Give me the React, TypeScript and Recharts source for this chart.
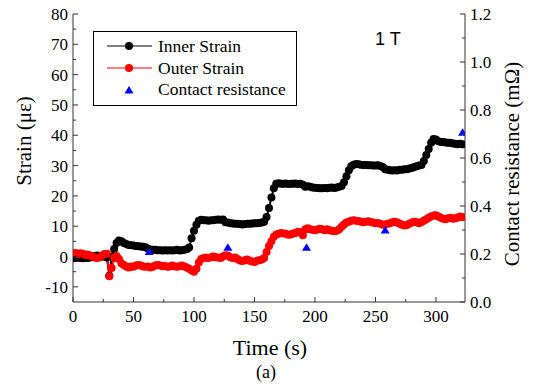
import { ComposedChart, Line, Scatter, XAxis, YAxis } from "recharts";

// time axis (s), sampled every 2 s
const times = [
  0, 2, 4, 6, 8, 10, 12, 14, 16, 18, 20, 22, 24, 26, 28, 30, 32, 34, 36, 38,
  40, 42, 44, 46, 48, 50, 52, 54, 56, 58, 60, 62, 64, 66, 68, 70, 72, 74, 76, 78,
  80, 82, 84, 86, 88, 90, 92, 94, 96, 98, 100, 102, 104, 106, 108, 110, 112, 114, 116, 118,
  120, 122, 124, 126, 128, 130, 132, 134, 136, 138, 140, 142, 144, 146, 148, 150, 152, 154, 156, 158,
  160, 162, 164, 166, 168, 170, 172, 174, 176, 178, 180, 182, 184, 186, 188, 190, 192, 194, 196, 198,
  200, 202, 204, 206, 208, 210, 212, 214, 216, 218, 220, 222, 224, 226, 228, 230, 232, 234, 236, 238,
  240, 242, 244, 246, 248, 250, 252, 254, 256, 258, 260, 262, 264, 266, 268, 270, 272, 274, 276, 278,
  280, 282, 284, 286, 288, 290, 292, 294, 296, 298, 300, 302, 304, 306, 308, 310, 312, 314, 316, 318,
  320, 322,
];

const innerStrain = [
  -0.5, -0.5, -0.3, -0.5, -0.6, -0.4, -0.5, -0.3, 0, 0.2, 0.3, 0.2, 0, 0, -0.3, -6.3, 0, 2.5, 4.5, 5.3,
  5, 4.5, 4.1, 3.8, 3.7, 3.6, 3.5, 3.4, 3.3, 3.2, 3.1, 2.6, 2.3, 2.2, 2.2, 2.1, 2.1, 2, 2.1, 2,
  2.1, 2, 2.1, 2.2, 2, 2.1, 2.2, 2.4, 3, 6, 8.5, 10.5, 11.8, 12.1, 12, 12, 11.8, 12, 12, 12.1,
  12.2, 12.1, 12.2, 11.3, 11.2, 11, 10.9, 10.8, 10.8, 10.7, 10.6, 10.7, 10.8, 10.8, 10.9, 11, 11, 11.1, 11.2, 11.5,
  13, 16, 19.5, 22.5, 24, 24.2, 24, 24, 24.1, 23.9, 24, 24, 24.1, 23.9, 24, 23.7, 23, 23.2, 23, 22.8,
  22.7, 22.6, 22.5, 22.5, 22.6, 22.5, 22.7, 22.8, 22.6, 22.8, 23, 23.3, 24.5, 26.5, 28.5, 29.8, 30.3, 30.5, 30.4, 30.3,
  30.2, 30.2, 30.1, 30.1, 30, 30, 30.1, 29.9, 29.5, 28.8, 28.6, 28.5, 28.4, 28.5, 28.4, 28.6, 28.6, 28.8, 28.8, 29,
  29.2, 29.5, 29.8, 30, 30.2, 31.5, 33.5, 35.5, 37.5, 38.8, 38.6, 38, 37.8, 37.8, 37.6, 37.5, 37.5, 37.3, 37.2, 37,
  37.2, 37,
];

const outerStrain = [
  1, 1.2, 0.8, 1.1, 0.9, 0.5, 0.7, 0.3, 0, -0.3, -0.5, -0.2, 0.3, 0.8, 0.9, -6.5, -3.8, -0.5, 0.2, -0.8,
  -2.2, -2.8, -3.3, -3.6, -3.3, -3.4, -3, -2.8, -3, -3.3, -3.4, -3.3, -3.6, -3.4, -3, -2.8, -3, -3.2, -3.1, -3.4,
  -3.3, -3, -3.2, -3.4, -3.2, -3, -3.3, -3.6, -4, -4.5, -5, -4, -2, -0.8, -0.5, -0.3, -0.5, -0.2, 0, -0.2,
  -0.3, -0.5, 0, 0.4, 0.3, -0.2, -0.5, -0.3, -0.8, -1.3, -1.5, -1.2, -1, -1.4, -1.6, -1.8, -1.4, -1.2, -1, -0.5,
  1.5, 3.5, 5, 6.5, 7.3, 7.5, 7.8, 7.6, 7.5, 7.2, 7.3, 7.6, 7.8, 8.2, 8, 7, 9, 9.3, 9, 8.8,
  8.7, 8.9, 9.2, 9, 8.7, 9, 8.7, 8.5, 8.3, 8.5, 9, 9.8, 10.6, 11.2, 11.5, 11.8, 12, 11.8, 11.7, 11.5,
  11.3, 11.5, 11.6, 11.4, 11.2, 11, 11.1, 10.8, 10.5, 10.6, 10.8, 11, 11.3, 11.5, 11.2, 10.8, 10.5, 10.2, 10.4, 10.8,
  11.2, 11.5, 11.3, 11, 11.4, 11.8, 12.3, 12.8, 13.2, 13.5, 13.6, 13.2, 12.8, 12.5, 12.3, 12.6, 12.8, 12.5, 12.6, 12.9,
  13.2, 13,
];

// contact resistance (mOhm), right axis
const resTimes = [63, 128, 193, 258, 322];
const resValues = [0.21, 0.228, 0.228, 0.3, 0.707];

const xTicks = [0, 25, 50, 75, 100, 125, 150, 175, 200, 225, 250, 275, 300];
const leftTicks = [-10, -5, 0, 5, 10, 15, 20, 25, 30, 35, 40, 45, 50, 55, 60, 65, 70, 75, 80];
const rightTicks = [0, 0.1, 0.2, 0.3, 0.4, 0.5, 0.6, 0.7, 0.8, 0.9, 1.0, 1.1, 1.2];

const strainData = times.map((t, i) => ({ t, inner: innerStrain[i], outer: outerStrain[i] }));
const resData = resTimes.map((t, i) => ({ t, r: resValues[i] }));

const AX = "#333";
const serif = "'Liberation Serif', 'Times New Roman', serif";

function BottomTick({ x, y, payload }: any) {
  const v = payload.value;
  const major = v % 50 === 0;
  return (
    <g>
      <line x1={x} x2={x} y1={y} y2={y - (major ? 5 : 3)} stroke={AX} />
      {major && (
        <text x={x} y={y + 20} textAnchor="middle" fontFamily={serif} fontSize={17} fill="#000">
          {v}
        </text>
      )}
    </g>
  );
}

function TopTick({ x, y, payload }: any) {
  const major = payload.value % 50 === 0;
  return <line x1={x} x2={x} y1={y} y2={y + (major ? 5 : 3)} stroke={AX} />;
}

function LeftTick({ x, y, payload }: any) {
  const v = payload.value;
  const major = v % 10 === 0;
  return (
    <g>
      <line x1={x} x2={x + (major ? 5 : 3)} y1={y} y2={y} stroke={AX} />
      {major && (
        <text x={x - 5} y={y + 6} textAnchor="end" fontFamily={serif} fontSize={17} fill="#000">
          {v}
        </text>
      )}
    </g>
  );
}

function RightTick({ x, y, payload }: any) {
  const v = payload.value;
  const major = Math.round(v * 10) % 2 === 0;
  return (
    <g>
      <line x1={x} x2={x - (major ? 5 : 3)} y1={y} y2={y} stroke={AX} />
      {major && (
        <text x={x + 5} y={y + 6} textAnchor="start" fontFamily={serif} fontSize={17} fill="#000">
          {v.toFixed(1)}
        </text>
      )}
    </g>
  );
}

function Tri({ cx, cy }: any) {
  return <polygon points={`${cx - 4.5},${cy + 3.5} ${cx + 4.5},${cy + 3.5} ${cx},${cy - 4}`} fill="#0000ff" />;
}

export default function App() {
  return (
    <div style={{ position: "relative", width: 525, height: 389, marginTop: -8 }}>
      <ComposedChart width={525} height={389} data={strainData} margin={{ top: 14, right: 8, left: 5, bottom: 47 }}>
        <XAxis
          xAxisId="b"
          dataKey="t"
          type="number"
          domain={[0, 324]}
          allowDataOverflow
          ticks={xTicks}
          interval={0}
          tickSize={0}
          tickMargin={0}
          tick={<BottomTick />}
          stroke={AX}
          height={40}
        />
        <XAxis
          xAxisId="top"
          orientation="top"
          dataKey="t"
          type="number"
          domain={[0, 324]}
          allowDataOverflow
          ticks={xTicks}
          interval={0}
          tickSize={0}
          tickMargin={0}
          tick={<TopTick />}
          stroke={AX}
          height={0}
        />
        <YAxis
          yAxisId="left"
          type="number"
          domain={[-15, 80]}
          allowDataOverflow
          ticks={leftTicks}
          interval={0}
          tickSize={0}
          tickMargin={0}
          tick={<LeftTick />}
          stroke={AX}
          width={60}
        />
        <YAxis
          yAxisId="right"
          orientation="right"
          dataKey="r"
          type="number"
          domain={[0, 1.2]}
          allowDataOverflow
          ticks={rightTicks}
          interval={0}
          tickSize={0}
          tickMargin={0}
          tick={<RightTick />}
          stroke={AX}
          width={60}
        />
        <Line
          xAxisId="b"
          yAxisId="left"
          dataKey="inner"
          stroke="#000"
          strokeWidth={2}
          dot={{ r: 4, fill: "#000", stroke: "none" }}
          isAnimationActive={false}
        />
        <Line
          xAxisId="b"
          yAxisId="left"
          dataKey="outer"
          stroke="#ff0000"
          strokeWidth={2}
          dot={{ r: 4, fill: "#ff0000", stroke: "none" }}
          isAnimationActive={false}
        />
        <Scatter xAxisId="b" yAxisId="right" data={resData} dataKey="r" shape={<Tri />} isAnimationActive={false} />
      </ComposedChart>
      <svg
        width={525}
        height={389}
        style={{ position: "absolute", left: 0, top: 0, pointerEvents: "none" }}
      >
        <rect x={85.5} y={31.5} width={203} height={74} fill="#fff" stroke="#000" />
        <line x1={99} x2={144} y1={46} y2={46} stroke="#000" />
        <circle cx={121} cy={46} r={4} fill="#000" />
        <text x={150} y={52} fontFamily={serif} fontSize={17.5} fill="#000">Inner Strain</text>
        <line x1={99} x2={144} y1={68} y2={68} stroke="#ff0000" />
        <circle cx={121} cy={68} r={4} fill="#ff0000" />
        <text x={150} y={74} fontFamily={serif} fontSize={17.5} fill="#000">Outer Strain</text>
        <polygon points="121,86 125.5,93.5 116.5,93.5" fill="#0000ff" />
        <text x={150} y={95} fontFamily={serif} fontSize={17.5} fill="#000">Contact resistance</text>
        <text x={367} y={45} fontFamily="'Liberation Sans', Arial, sans-serif" fontSize={18} fill="#000">1 T</text>
        <text x={262} y={355} textAnchor="middle" fontFamily={serif} fontSize={22} fill="#000">Time (s)</text>
        <text x={258} y={378} textAnchor="middle" fontFamily={serif} fontSize={18} fill="#000">(a)</text>
        <text
          transform="translate(16,141) rotate(-90)"
          textAnchor="middle"
          dominantBaseline="central"
          fontFamily={serif}
          fontSize={21}
          fill="#000"
        >
          Strain (με)
        </text>
        <text
          transform="translate(504,164) rotate(-90)"
          textAnchor="middle"
          dominantBaseline="central"
          fontFamily={serif}
          fontSize={21}
          fill="#000"
        >
          Contact resistance (mΩ)
        </text>
      </svg>
    </div>
  );
}
